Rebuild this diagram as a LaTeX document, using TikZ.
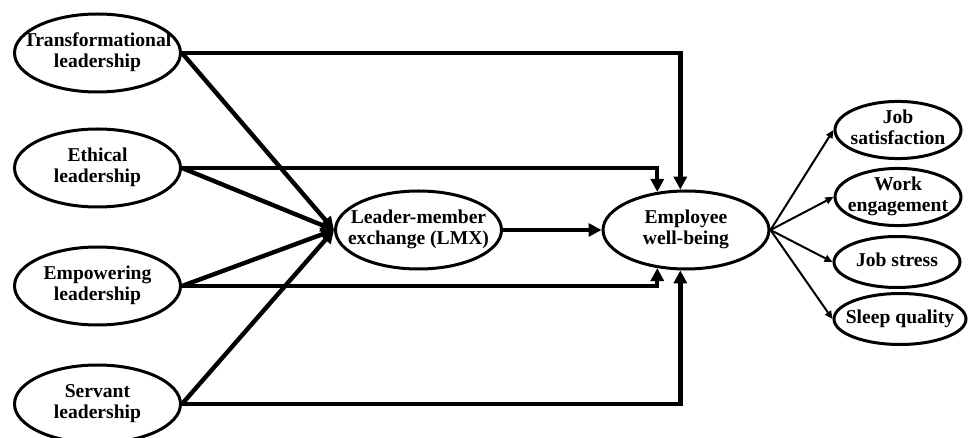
\documentclass[tikz,border=0pt]{standalone}
\usepackage{fontspec}
\setmainfont{Liberation Serif}
\usetikzlibrary{shapes.geometric,arrows.meta}
\newcommand{\ctext}[1]{\makebox[0pt]{\begin{tabular}{@{}c@{}}#1\end{tabular}}}

\begin{document}
\begin{tikzpicture}[x=5pt,y=-5pt,
  var/.style={ellipse,draw,line width=1.5pt,minimum width=83pt,minimum height=39pt,
    inner sep=0pt,font=\fontsize{9.8}{10.1}\selectfont\bfseries},
  outc/.style={var,minimum width=63pt,minimum height=25.5pt},
  link/.style={line width=2.2pt,-{Triangle[length=6.5pt,width=6.5pt]}},
  outlink/.style={line width=1pt,-{Triangle[length=4pt,width=3.5pt]}}]
\useasboundingbox (0,0) rectangle (97.1,43.8);

\node [var] (tl) at (9.75,5.3) {\ctext{Transformational\\leadership}};
\node [var] (el) at (9.75,16.8) {\ctext{Ethical\\leadership}};
\node [var] (em) at (9.75,28.6) {\ctext{Empowering\\leadership}};
\node [var] (sl) at (9.75,40.4) {\ctext{Servant\\leadership}};
\node [var] (lmx) at (41.85,23.0) {\ctext{Leader-member\\exchange (LMX)}};
\node [var] (ewb) at (68.6,23.0) {\ctext{Employee\\well-being}};

\node [outc] (js) at (89.8,13.0) {\ctext{Job\\satisfaction}};
\node [outc] (we) at (89.8,19.7) {\ctext{Work\\engagement}};
\node [outc] (jst) at (89.7,26.2) {\ctext{Job stress}};
\node [outc,minimum width=66pt] (sq) at (90.0,31.9) {\ctext{Sleep quality}};

\draw [link] (tl.east) -- (lmx.west);
\draw [link] (el.east) -- (lmx.west);
\draw [link] (em.east) -- (lmx.west);
\draw [link] (sl.east) -- (lmx.west);
\draw [link] (lmx) -- (ewb);

\draw [link] (tl.east) -| (ewb.98);
\draw [link] (el.east) -| (ewb.127);
\draw [link] (em.east) -| (ewb.233);
\draw [link] (sl.east) -| (ewb.262);

\draw [outlink] (ewb.east) -- (js.west);
\draw [outlink] (ewb.east) -- (we.west);
\draw [outlink] (ewb.east) -- (jst.west);
\draw [outlink] (ewb.east) -- (sq.west);
\end{tikzpicture}
\end{document}
